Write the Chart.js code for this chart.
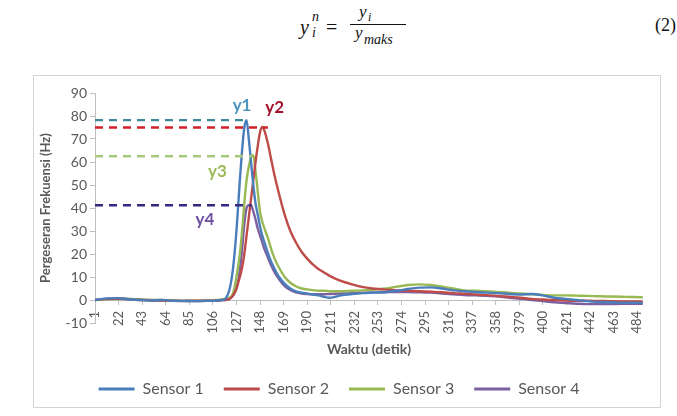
<!DOCTYPE html>
<html>
<head>
<meta charset="utf-8">
<script src="https://cdn.jsdelivr.net/npm/chart.js@4.4.1/dist/chart.umd.min.js"></script>
<style>
  body { margin: 0; background: #fff; width: 677px; height: 416px; position: relative; overflow: hidden; }
  .eq { position: absolute; font-family: 'Liberation Serif', serif; line-height: 1; color: #111; white-space: nowrap; }
  .it { font-style: italic; }
  #bar { position: absolute; left: 350px; top: 24px; width: 56px; height: 1.3px; background: #111; }
  #box { position: absolute; left: 33px; top: 75px; width: 626px; height: 331px; border: 1px solid #d4d4d4; }
  #wrap { position: absolute; left: 0; top: 0; width: 626px; height: 331px; }
</style>
</head>
<body>
<div class="eq it" style="left:300px;top:17px;font-size:20px">y</div>
<div class="eq it" style="left:312px;top:10px;font-size:14px">n</div>
<div class="eq it" style="left:312px;top:26px;font-size:14px">i</div>
<div class="eq" style="left:326px;top:17px;font-size:20px">=</div>
<div class="eq it" style="left:359px;top:3px;font-size:17px">y</div>
<div class="eq it" style="left:368px;top:11px;font-size:12px">i</div>
<div id="bar"></div>
<div class="eq it" style="left:355px;top:24px;font-size:17px">y</div>
<div class="eq it" style="left:364px;top:33px;font-size:14px">maks</div>
<div class="eq" style="left:655px;top:16px;font-size:18px">(2)</div>

<div id="box"><div id="wrap"><canvas id="chart"></canvas></div></div>

<script>
// waktu (detik) of the read-off points
const seconds = [1, 10, 20, 30, 40, 50, 60, 70, 80, 90, 100,
  110, 114, 117, 121, 124, 127, 130, 132, 134, 136,
  138, 140, 142, 144, 146, 148, 150, 152, 155, 158,
  161, 165, 170, 175, 180, 185, 190, 195, 200, 205,
  210, 215, 220, 230, 240, 250, 260, 270, 280, 290,
  300, 310, 320, 330, 340, 350, 360, 370, 380, 390,
  400, 410, 420, 430, 440, 450, 460, 470, 480, 489];

const sensor1 = [0, 0.6, 0.8, 0.3, 0, -0.2, 0, -0.3, -0.4, -0.5, -0.4,
  -0.2, 0, 0.5, 5, 14, 30, 52, 65, 75, 78.2,
  70, 60, 50, 42, 37, 32, 28, 25, 20.5, 16.5,
  13.5, 10, 7, 5, 3.8, 3.2, 2.8, 2.4, 2, 1.4,
  1, 1.4, 2, 2.6, 3, 3.2, 3.5, 4, 4.8, 5.4,
  5.5, 5, 4.2, 3.8, 3.5, 3.2, 3, 2.6, 2.4, 2.6,
  2, 1, 0.5, 0, -0.5, -0.9, -1, -1.2, -1.2, -1.3];

const sensor2 = [0, 0.4, 0.5, 0.3, 0, -0.2, -0.2, -0.3, -0.4, -0.3, -0.3,
  -0.2, 0, 0, 0.5, 2, 5, 10, 14, 20, 28,
  36, 44, 52, 60, 67, 73, 75.2, 73.5, 68, 61,
  54, 46, 37, 30, 25, 21, 18, 15.5, 13.5, 12,
  10.5, 9.3, 8.3, 6.8, 5.6, 4.9, 4.5, 4.2, 4, 3.8,
  3.6, 3.4, 3, 2.7, 2.4, 2.1, 1.8, 1.4, 1, 0.5,
  0.2, 0, -0.2, -0.3, -0.3, -0.4, -0.5, -0.6, -0.6, -0.7];

const sensor3 = [0, 0.3, 0.4, 0.5, 0.2, 0, 0, -0.2, -0.3, -0.3, -0.2,
  0, 0.2, 0.3, 1, 3, 10, 20, 30, 42, 52,
  58, 62, 63, 56, 47, 38.5, 34, 31, 27, 22,
  18, 14, 10, 7.5, 6, 5, 4.6, 4.3, 4, 4,
  3.8, 3.8, 3.8, 4, 4.2, 4.5, 5, 5.8, 6.5, 6.8,
  6.5, 5.8, 5, 4.2, 4, 3.8, 3.5, 3.2, 2.8, 2.5,
  2.2, 2, 2, 1.9, 1.8, 1.6, 1.5, 1.4, 1.3, 1.2];

const sensor4 = [0, 0.5, 0.8, 0.5, 0.3, 0, -0.2, -0.4, -0.5, -0.5, -0.4,
  -0.2, 0, 0, 0.5, 2, 5, 13, 22, 33, 40,
  41.2, 41.2, 38.5, 35, 31, 28, 25, 22, 18.5, 15,
  12, 9, 6, 4.4, 3.3, 2.8, 2.6, 2.5, 2.5, 2.5,
  2.6, 2.7, 2.8, 3, 3.2, 3.3, 3.4, 3.5, 3.5, 3.4,
  3.2, 2.8, 2.5, 2.2, 2, 1.8, 1.5, 1, 0.5, 0,
  -0.5, -1, -1.3, -1.6, -1.8, -1.8, -1.8, -1.7, -1.7, -1.7];

const seriesNames = ['Sensor 1', 'Sensor 2', 'Sensor 3', 'Sensor 4'];
const seriesColors = ['#4a7ebb', '#be4b48', '#98b954', '#7d60a0'];
const xTickLabels = [1, 22, 43, 64, 85, 106, 127, 148, 169, 190, 211, 232,
  253, 274, 295, 316, 337, 358, 379, 400, 421, 442, 463, 484];

// dashed peak markers y1..y4
const peakNames = ['y1', 'y2', 'y3', 'y4'];
const peakValues = [78.2, 75, 62.5, 41.2];
const peakEnds = [136, 155, 140.6, 140.6];
const peakLabelX = [132, 161, 110, 99];
const peakLabelY = [84.6, 83.7, 56, 35];
const peakLineColors = ['#3d8a9a', '#d0202a', '#a9c97e', '#352a80'];
const peakTextColors = ['#4d95bd', '#a5122a', '#9bbb59', '#6f4f9f'];

const sensors = [sensor1, sensor2, sensor3, sensor4];
var datasets = [];
for (let k = 0; k < sensors.length; k++) {
	datasets.push({
		label: seriesNames[k],
		data: seconds.map((s, i) => ({x: s, y: sensors[k][i]})),
		borderColor: seriesColors[k],
		backgroundColor: seriesColors[k],
		borderWidth: 2.4,
		cubicInterpolationMode: 'monotone',
		order: 1
	});
}
for (let k = 0; k < peakNames.length; k++) {
	datasets.push({
		label: peakNames[k],
		data: [{x: 1, y: peakValues[k]}, {x: peakEnds[k], y: peakValues[k]}],
		borderColor: peakLineColors[k],
		borderWidth: 2.4,
		borderDash: [8, 6],
		order: 0
	});
}

const peak_labels = {
	id: 'peak_labels',
	afterDatasetsDraw(chart) {
		const ctx = chart.ctx;
		const xs = chart.scales.x, ys = chart.scales.y;
		ctx.save();
		ctx.font = "bold 17px Lato, sans-serif";
		ctx.textAlign = 'center';
		ctx.textBaseline = 'middle';
		for (let k = 0; k < peakNames.length; k++) {
			ctx.fillStyle = peakTextColors[k];
			ctx.fillText(peakNames[k], xs.getPixelForValue(peakLabelX[k]), ys.getPixelForValue(peakLabelY[k]));
		}
		ctx.restore();
	}
};

Chart.defaults.font.family = "Lato, 'Open Sans', sans-serif";
Chart.defaults.color = '#595959';

const chart = new Chart(document.getElementById('chart'), {
	type: 'line',
	data: {datasets: datasets},
	options: {
		responsive: true,
		maintainAspectRatio: false,
		animation: false,
		layout: {padding: {left: 0, top: 17, right: 16, bottom: 0}},
		elements: {point: {radius: 0}},
		scales: {
			x: {
				type: 'linear',
				min: 1,
				max: 489,
				position: {y: 0},
				afterBuildTicks: s => { s.ticks = xTickLabels.map(v => ({value: v})); },
				ticks: {autoSkip: false, minRotation: 90, maxRotation: 90, font: {size: 13}, padding: 7},
				grid: {drawOnChartArea: false, tickLength: 4, color: '#bfbfbf'},
				border: {color: '#bfbfbf'},
				title: {display: true, text: 'Waktu (detik)', font: {size: 14, weight: 'bold'}, padding: {top: 0, bottom: 0}}
			},
			y: {
				min: -10,
				max: 90,
				ticks: {stepSize: 10, font: {size: 14}, padding: 3},
				grid: {drawOnChartArea: false, tickLength: 5, color: '#bfbfbf'},
				border: {color: '#bfbfbf'},
				title: {display: true, text: 'Pergeseran Frekuensi (Hz)', font: {size: 13, weight: 'bold'}, padding: {top: 4, bottom: 0}},
				afterFit: s => { s.width = 61; }
			}
		},
		plugins: {
			legend: {
				position: 'bottom',
				title: {display: true, text: ' ', font: {size: 10, lineHeight: 1}, padding: {top: 28, bottom: 0}},
				labels: {
					boxWidth: 36,
					boxHeight: 3,
					padding: 20,
					font: {size: 16},
					color: '#595959',
					generateLabels: c => Chart.defaults.plugins.legend.labels.generateLabels(c).map(l => ({...l, lineWidth: 0})),
					filter: item => item.datasetIndex < 4
				}
			},
			tooltip: {enabled: false}
		}
	},
	plugins: [peak_labels]
});
</script>
</body>
</html>
